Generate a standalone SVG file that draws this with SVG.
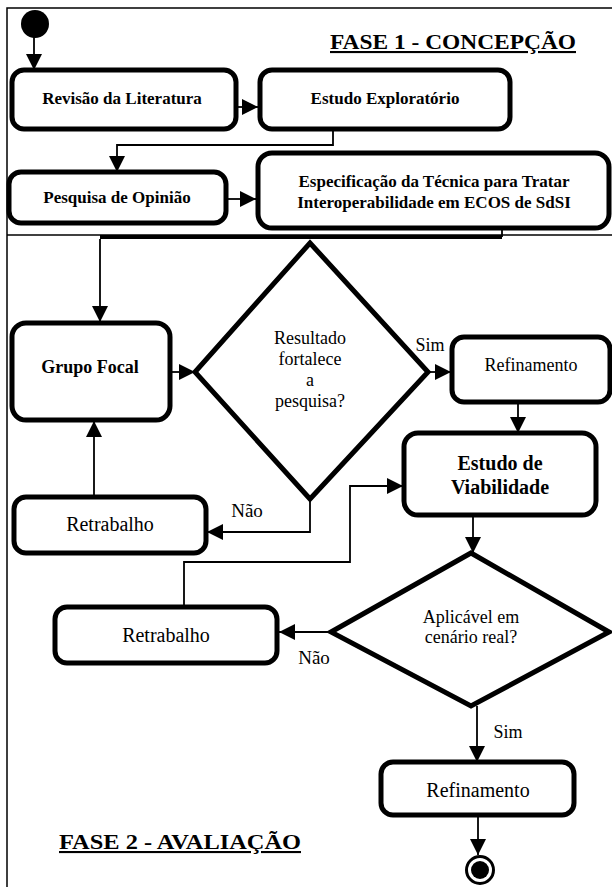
<svg xmlns="http://www.w3.org/2000/svg" width="612" height="887" viewBox="0 0 612 887">
<defs>
<marker id="ah" markerUnits="userSpaceOnUse" markerWidth="16" markerHeight="16" viewBox="0 0 14 14" refX="14" refY="7" orient="auto">
<path d="M0,0 L14,7 L0,14 Z" fill="#000"/>
</marker>
</defs>
<style>
.box{fill:#fff;stroke:#000;stroke-width:5}
.dia{fill:#fff;stroke:#000;stroke-width:5;stroke-linejoin:miter}
.ln{fill:none;stroke:#000;stroke-width:1.8}
.arr{fill:none;stroke:#000;stroke-width:1.8;marker-end:url(#ah)}
.frame{fill:none;stroke:#000;stroke-width:1.5}
text{font-family:"Liberation Serif","Times New Roman","DejaVu Serif",serif;fill:#000;text-anchor:middle}
.b{font-weight:bold}
.h{font-weight:bold;font-size:21px;text-decoration:underline}
</style>
<rect width="612" height="887" fill="#fff"/>
<g id="frame">
<path class="frame" d="M7,887 V8 H612"/>
<line class="frame" x1="7" y1="235" x2="612" y2="235"/>
</g>
<g id="connectors">
<line class="arr" x1="34" y1="37" x2="34" y2="70"/>
<line class="arr" x1="236" y1="107" x2="258" y2="107"/>
<path class="arr" d="M333,129 V145 H117 V172"/>
<line class="arr" x1="226" y1="199" x2="256" y2="199"/>
<path class="ln" d="M502,228 V237"/>
<line x1="100" y1="237" x2="502" y2="237" stroke="#000" stroke-width="4"/>
<line class="arr" x1="100" y1="239" x2="100" y2="322"/>
<line class="arr" x1="170" y1="372" x2="195" y2="372"/>
<line class="arr" x1="429" y1="372" x2="451" y2="372"/>
<line class="arr" x1="518" y1="403" x2="518" y2="433"/>
<path class="arr" d="M310,499 V532 H207"/>
<line class="arr" x1="94" y1="497" x2="94" y2="421"/>
<path class="arr" d="M184,607 V562 H350 V486 H403"/>
<line class="arr" x1="473" y1="516" x2="473" y2="553"/>
<line class="arr" x1="330" y1="632" x2="279" y2="632"/>
<line class="arr" x1="477" y1="706" x2="477" y2="762"/>
<line class="arr" x1="478" y1="816" x2="478" y2="855"/>
</g>
<g id="start"><circle cx="35" cy="24" r="14" fill="#000"/></g>
<g id="title1"><text class="h" x="453" y="49" textLength="246" lengthAdjust="spacingAndGlyphs">FASE 1 - CONCEPÇÃO</text></g>
<g id="revisao"><rect class="box" x="12" y="70" width="224" height="59" rx="12"/><text class="b" x="122" y="104" font-size="17">Revisão da Literatura</text></g>
<g id="exploratorio"><rect class="box" x="260" y="70" width="250" height="59" rx="12"/><text class="b" x="385" y="104" font-size="17">Estudo Exploratório</text></g>
<g id="opiniao"><rect class="box" x="9" y="172" width="217" height="51" rx="12"/><text class="b" x="117" y="203" font-size="17">Pesquisa de Opinião</text></g>
<g id="especificacao"><rect class="box" x="258" y="153" width="351" height="75" rx="14"/><text class="b" x="434" y="187" font-size="17">Especificação da Técnica para Tratar</text><text class="b" x="434" y="208" font-size="17">Interoperabilidade em ECOS de SdSI</text></g>
<g id="grupo"><rect class="box" x="12" y="323" width="158" height="97" rx="14"/><text class="b" x="90" y="373" font-size="18">Grupo Focal</text></g>
<g id="decisao1"><polygon class="dia" points="310,243 428,372 310,499 195,372"/><text x="310" y="344" font-size="18">Resultado</text><text x="310" y="365" font-size="18">fortalece</text><text x="310" y="386" font-size="18">a</text><text x="310" y="407" font-size="18">pesquisa?</text><text x="430" y="351" font-size="18">Sim</text><text x="247" y="517" font-size="19">Não</text></g>
<g id="refinamento1"><rect class="box" x="452" y="337" width="158" height="65" rx="12"/><text x="531" y="371" font-size="18">Refinamento</text></g>
<g id="viabilidade"><rect class="box" x="404" y="433" width="192" height="82" rx="14"/><text class="b" x="500" y="470" font-size="20">Estudo de</text><text class="b" x="500" y="494" font-size="20">Viabilidade</text></g>
<g id="retrabalho1"><rect class="box" x="14" y="497" width="192" height="56" rx="12"/><text x="110" y="531" font-size="20">Retrabalho</text></g>
<g id="decisao2"><polygon class="dia" points="471,553 609,632 471,706 331,632"/><text x="471" y="623" font-size="18">Aplicável em</text><text x="471" y="643" font-size="18">cenário real?</text><text x="314" y="664" font-size="19">Não</text><text x="508" y="738" font-size="18">Sim</text></g>
<g id="retrabalho2"><rect class="box" x="55" y="607" width="222" height="56" rx="12"/><text x="166" y="642" font-size="20">Retrabalho</text></g>
<g id="refinamento2"><rect class="box" x="381" y="762" width="193" height="53" rx="12"/><text x="478" y="797" font-size="20">Refinamento</text></g>
<g id="title2"><text class="h" x="180" y="849" textLength="242" lengthAdjust="spacingAndGlyphs">FASE 2 - AVALIAÇÃO</text></g>
<g id="end"><circle cx="480" cy="870" r="13.5" fill="#fff" stroke="#000" stroke-width="3"/><circle cx="480" cy="870" r="9" fill="#000"/></g>
</svg>
